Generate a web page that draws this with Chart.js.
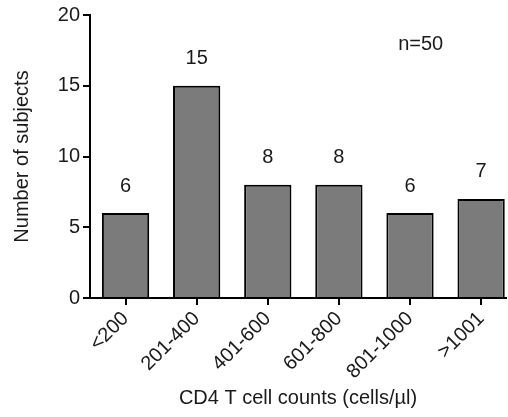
<!DOCTYPE html>
<html>
<head>
<meta charset="utf-8">
<script src="https://cdn.jsdelivr.net/npm/chart.js@4/dist/chart.umd.min.js"></script>
<style>
  html, body { margin: 0; padding: 0; background: #fff; overflow: hidden; }
  #wrap { width: 508px; height: 417px; }
</style>
</head>
<body>
<div id="wrap"><canvas id="cd4Chart"></canvas></div>
<script>
// --- datos ---
const categories = ['<200', '201-400', '401-600', '601-800', '801-1000', '>1001'];
const subjects = [6, 15, 8, 8, 6, 7];
const yTicks = [0, 5, 10, 15, 20];
const sampleNote = 'n=50';

const FONT = "'Liberation Sans', Arial, Helvetica, sans-serif";
const ink = '#000000';
const textInk = '#1a1a1a';
const barFill = '#7b7b7b';

// etiquetas de valor encima de cada barra + nota n=50
const labelPlugin = {
    id: 'valueLabels',
    afterDatasetsDraw(chart) {
        const { ctx, scales: { x, y } } = chart;
        ctx.save();
        ctx.fillStyle = textInk;
        ctx.font = `20px ${FONT}`;
        ctx.textAlign = 'center';
        ctx.textBaseline = 'middle';
        subjects.forEach((v, i) => {
            ctx.fillText(String(v), x.getPixelForValue(i), y.getPixelForValue(v) - 27);
        });
        ctx.fillText(sampleNote, x.getPixelForValue(4.15), y.getPixelForValue(17.9));
        ctx.restore();
    }
};

const ctx = document.getElementById('cd4Chart').getContext('2d');

new Chart(ctx, {
    type: 'bar',
    data: {
        datasets: [{
            data: subjects.map((v, i) => ({ x: i, y: v })),
            backgroundColor: barFill,
            borderColor: ink,
            borderWidth: 2,
            barPercentage: 0.665,
            categoryPercentage: 1
        }]
    },
    options: {
        responsive: true,
        maintainAspectRatio: false,
        animation: false,
        layout: { padding: { top: 14, right: 2, bottom: 4, left: 0 } },
        plugins: {
            legend: { display: false },
            tooltip: { enabled: false }
        },
        scales: {
            x: {
                type: 'linear',
                offset: false,
                min: -0.5,
                max: 5.35,
                afterBuildTicks: axis => { axis.ticks = categories.map((c, i) => ({ value: i })); },
                afterFit: axis => { axis.height = 115; },
                border: { display: true, color: ink, width: 2 },
                grid: { offset: false, drawOnChartArea: false, drawTicks: true, tickLength: 7, color: ink, lineWidth: 2 },
                ticks: {
                    color: textInk,
                    font: { family: FONT, size: 20 },
                    minRotation: 45,
                    maxRotation: 45,
                    padding: 2,
                    callback: v => categories[v]
                },
                title: {
                    display: true,
                    text: 'CD4 T cell counts (cells/µl)',
                    color: textInk,
                    font: { family: FONT, size: 20 },
                    padding: { top: 0, bottom: 3 }
                }
            },
            y: {
                min: 0,
                max: 20,
                afterBuildTicks: axis => { axis.ticks = yTicks.map(v => ({ value: v })); },
                afterFit: axis => { axis.width = 90; },
                border: { display: true, color: ink, width: 2 },
                grid: { drawOnChartArea: false, drawTicks: true, tickLength: 7, color: ink, lineWidth: 2 },
                ticks: {
                    color: textInk,
                    font: { family: FONT, size: 20 },
                    padding: 3
                },
                title: {
                    display: true,
                    text: 'Number of subjects',
                    color: textInk,
                    font: { family: FONT, size: 20 },
                    padding: { top: 10, bottom: 0 }
                }
            }
        }
    },
    plugins: [labelPlugin]
});
</script>
</body>
</html>
